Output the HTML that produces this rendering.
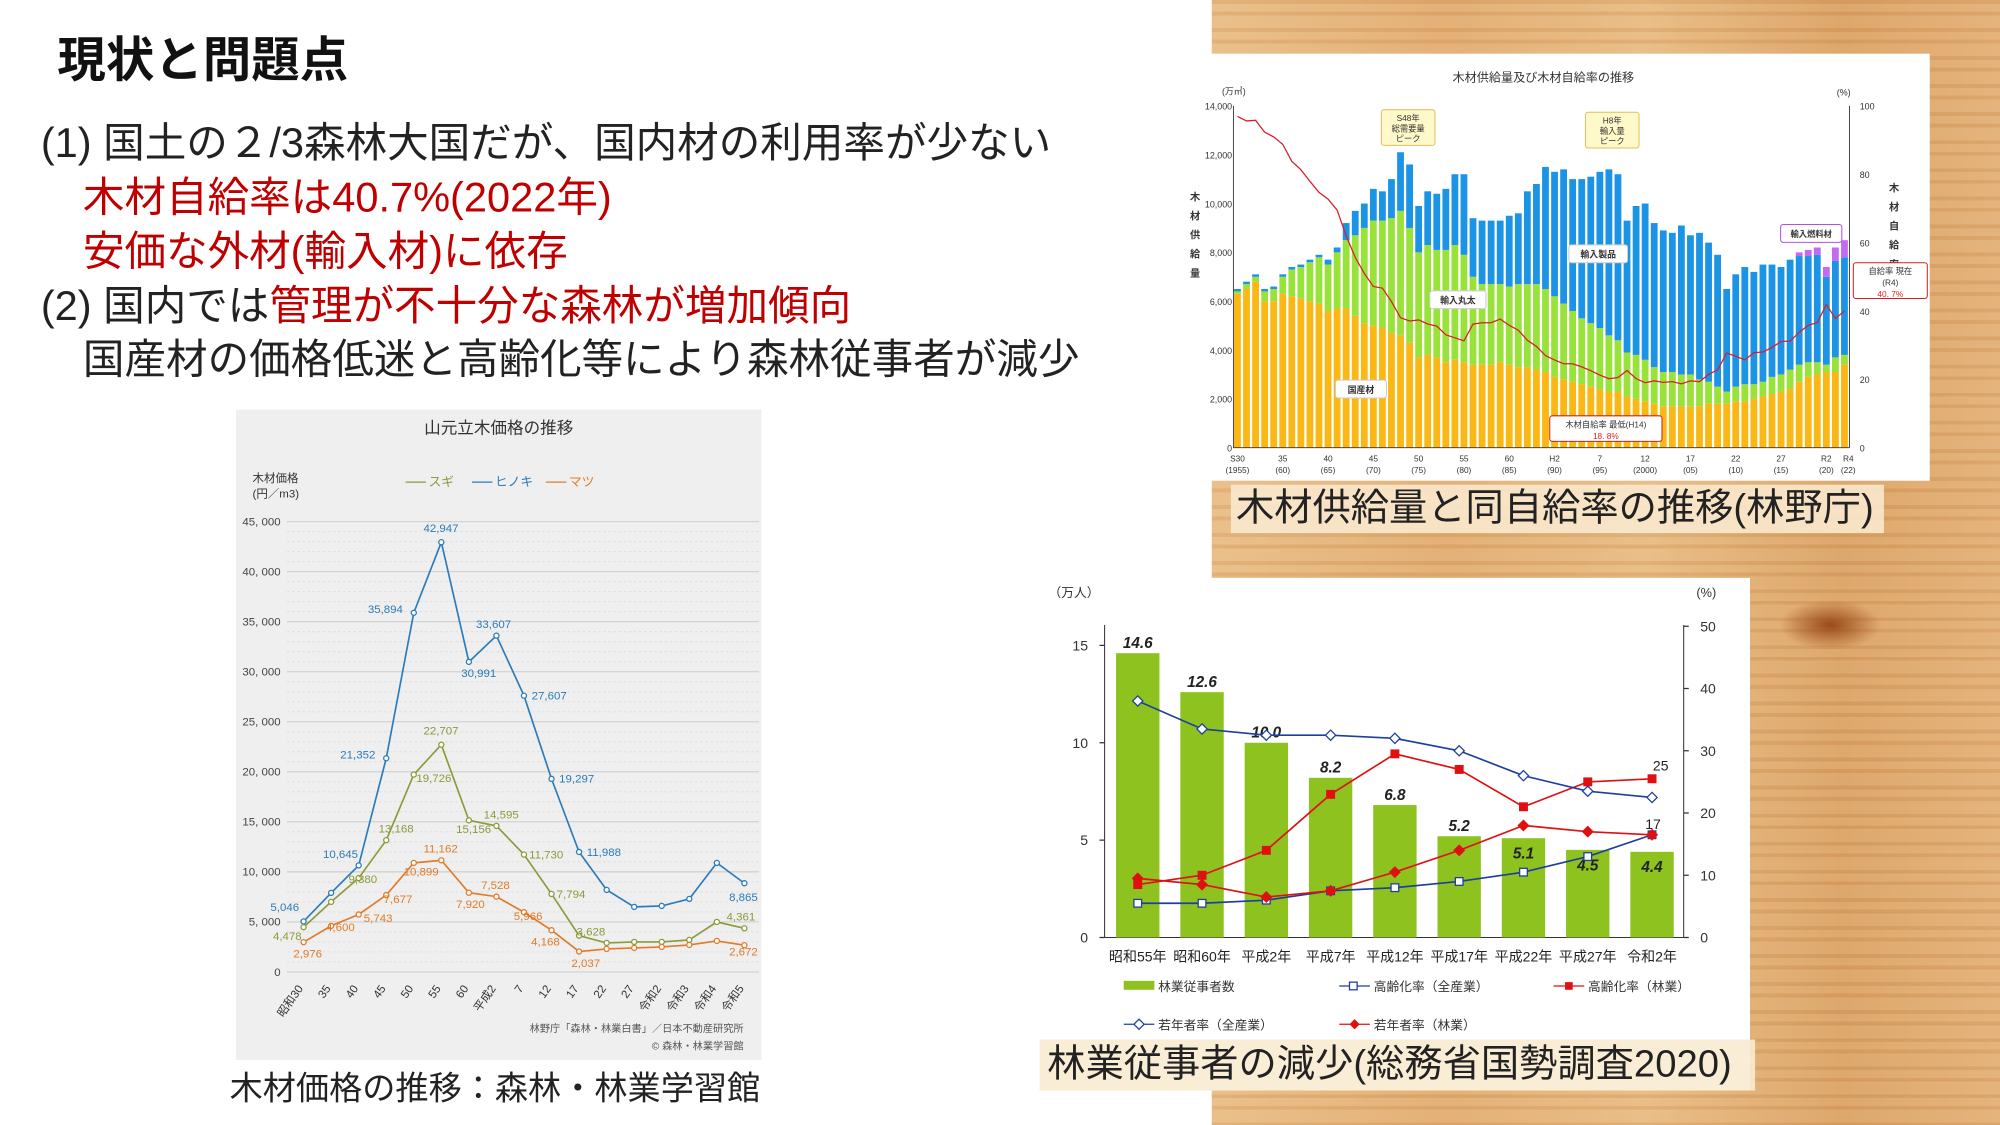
<!DOCTYPE html>
<html><head><meta charset="utf-8">
<style>
html,body{margin:0;padding:0;width:2000px;height:1125px;overflow:hidden;background:#fff}
#s{position:absolute;left:0;top:0;width:1568px;height:882px;transform:scale(1.27551);transform-origin:0 0;font-family:"Liberation Sans","Noto Sans CJK JP",sans-serif;}
.wood{position:absolute;left:950px;top:0;width:618px;height:882px;
background:
repeating-linear-gradient(180deg,rgba(150,80,20,0.10) 0 3px,rgba(255,230,190,0.08) 3px 9px,rgba(170,95,30,0.12) 9px 12px,rgba(255,240,210,0.06) 12px 22px),
linear-gradient(90deg,#e9bd86 0%,#e2ad72 30%,#e8bb83 55%,#dba366 80%,#e3b077 100%);}
.t{position:absolute;white-space:nowrap;color:#222}
.m{font-size:32.6px;line-height:40px}
.red{color:#c00000}
</style></head><body><div id="s">
<div class="wood"></div>
<div style="position:absolute;left:1395px;top:470px;width:80px;height:40px;border-radius:50%;background:radial-gradient(#9a4a18,rgba(180,90,30,0) 70%)"></div>

<div class="t" style="left:45px;top:26px;font-size:38px;line-height:44px;font-weight:bold;color:#111">現状と問題点</div>
<div class="t m" style="left:32px;top:92px">(1) 国土の２/3森林大国だが、国内材の利用率が少ない</div>
<div class="t m red" style="left:65px;top:135px">木材自給率は40.7%(2022年)</div>
<div class="t m red" style="left:65px;top:177px">安価な外材(輸入材)に依存</div>
<div class="t m" style="left:32px;top:220px">(2) 国内では<span class="red">管理が不十分な森林が増加傾向</span></div>
<div class="t m" style="left:65px;top:262px">国産材の価格低迷と高齢化等により森林従事者が減少</div>

<svg style="position:absolute;left:185px;top:321px" width="412" height="510" viewBox="185 321 412 510" id="lc"></svg>
<div class="t" style="left:180px;top:836px;font-size:26px;line-height:34px">木材価格の推移：森林・林業学習館</div>

<svg style="position:absolute;left:930px;top:42px" width="583" height="335" viewBox="930 42 583 335" id="tc"></svg>
<div class="t" style="left:965px;top:380px;width:508px;height:38px;background:rgba(250,232,205,0.9);font-size:30px;line-height:38px;padding-left:4px">木材供給量と同自給率の推移(林野庁)</div>

<svg style="position:absolute;left:815px;top:453px" width="557" height="402" viewBox="815 453 557 402" id="bc"></svg>
<div class="t" style="left:815px;top:815px;width:555px;height:40px;background:rgba(250,235,210,0.9);font-size:30px;line-height:40px;padding-left:6px">林業従事者の減少(総務省国勢調査2020)</div>

<script>
function T(x,y,s,sz,c,a,w){return `<text x="${x}" y="${y}" font-size="${sz||9}" fill="${c||'#333'}" text-anchor="${a||'start'}" ${w?'font-weight="bold"':''} font-family="Liberation Sans,Noto Sans CJK JP,sans-serif">${s}</text>`}
(function(){
let h=`<rect x="185" y="321" width="412" height="510" fill="#efefef"/>`;
h+=T(391,340,'山元立木価格の推移',13,'#333','middle');
h+=T(198,378,'木材価格',9)+T(198,390,'(円／m3)',9);
const Y=v=>762-v*353/45000;
for(let v=0;v<=45000;v+=1000){h+=`<line x1="225" x2="595" y1="${Y(v)}" y2="${Y(v)}" stroke="${v%5000?'#dcdcdc':'#c8c8c8'}" stroke-dasharray="${v%5000?'2,2':''}" stroke-width="0.7"/>`;}
for(let v=0;v<=45000;v+=5000)h+=T(220,Y(v)+3,v?v.toLocaleString('en').replace(',',', '):'0',9,'#444','end');
const lab=['昭和30','35','40','45','50','55','60','平成2','7','12','17','22','27','令和2','令和3','令和4','令和5'];
const X=i=>238+i*21.6;
lab.forEach((l,i)=>h+=`<text x="${X(i)}" y="775" font-size="9" fill="#333" text-anchor="end" transform="rotate(-55 ${X(i)} 775)" font-family="Liberation Sans,Noto Sans CJK JP,sans-serif">${l}</text>`);
const hi=[5046,7900,10645,21352,35894,42947,30991,33607,27607,19297,11988,8200,6500,6600,7300,10900,8865];
const su=[4478,7000,9380,13168,19726,22707,15156,14595,11730,7794,3628,2900,3000,3000,3200,5000,4361];
const ma=[2976,4600,5743,7677,10899,11162,7920,7528,5966,4168,2037,2300,2400,2500,2700,3100,2672];
[[hi,'#2b7bb9'],[su,'#8c9a3b'],[ma,'#e07b28']].forEach(([d,c])=>{
h+=`<polyline fill="none" stroke="${c}" stroke-width="1.3" points="${d.map((v,i)=>X(i)+','+Y(v)).join(' ')}"/>`;
d.forEach((v,i)=>h+=`<circle cx="${X(i)}" cy="${Y(v)}" r="2" fill="#fff" stroke="${c}" stroke-width="1"/>`);
});
const ann=[[hi,[[0,'5,046',-26,-8],[2,'10,645',-28,-6],[3,'21,352',-36,0],[4,'35,894',-36,0],[5,'42,947',-14,-8],[6,'30,991',-6,12],[7,'33,607',-16,-6],[8,'27,607',6,3],[9,'19,297',6,3],[10,'11,988',6,3],[16,'8,865',-12,14]],'#2b7bb9'],
[su,[[0,'4,478',-24,10],[2,'9,380',-8,4],[3,'13,168',-6,-6],[4,'19,726',2,6],[5,'22,707',-14,-8],[6,'15,156',-10,10],[7,'14,595',-10,-6],[8,'11,730',4,3],[9,'7,794',4,3],[10,'3,628',-2,0],[16,'4,361',-14,-6]],'#8c9a3b'],
[ma,[[0,'2,976',-8,12],[2,'5,743',4,6],[3,'7,677',-2,6],[4,'10,899',-8,10],[5,'11,162',-14,-6],[6,'7,920',-10,12],[7,'7,528',-12,-6],[8,'5,966',-8,6],[9,'4,168',-16,12],[10,'2,037',-6,12],[16,'2,672',-12,8],[1,'4,600',-4,4]],'#e07b28']];
ann.forEach(([d,list,c])=>list.forEach(([i,s,dx,dy])=>h+=T(X(i)+dx,Y(d[i])+dy,s,9,c)));
h+=`<line x1="318" x2="334" y1="378" y2="378" stroke="#8c9a3b"/>`+T(336,381,'スギ',10,'#8c9a3b');
h+=`<line x1="370" x2="386" y1="378" y2="378" stroke="#2b7bb9"/>`+T(388,381,'ヒノキ',10,'#2b7bb9');
h+=`<line x1="428" x2="444" y1="378" y2="378" stroke="#e07b28"/>`+T(446,381,'マツ',10,'#e07b28');
h+=T(583,809,'林野庁「森林・林業白書」／日本不動産研究所',8,'#555','end')+T(583,823,'© 森林・林業学習館',8,'#555','end');
document.getElementById('lc').innerHTML=h;
})();
(function(){
let h=`<rect x="945" y="42" width="568" height="335" fill="#fff"/>`;
h+=T(1210,64,'木材供給量及び木材自給率の推移',9.5,'#333','middle');
const Y=v=>351-v*268/14000;
h+=T(958,74,'(万㎥)',7)+T(1440,75,'(%)',7);
for(let v=0;v<=14000;v+=2000)h+=T(966,Y(v)+3,v.toLocaleString('en'),7,'#333','end');
for(let p=0;p<=100;p+=20)h+=T(1458,351-p*2.68+3,p,7);
['木','材','供','給','量'].forEach((c,i)=>h+=T(937,157+i*15,c,8,'#333','middle',1));
['木','材','自','給','率'].forEach((c,i)=>h+=T(1485,150+i*15,c,8,'#333','middle',1));
const t=[6500,6800,7100,6500,6600,7100,7400,7500,7700,7900,7700,8200,9200,9700,10000,10600,10500,11000,12100,11600,9900,10500,10400,10600,11200,11200,9400,9300,9300,9300,9500,9600,10500,10800,11500,11300,11400,11000,11000,11100,11300,11400,11200,9300,9900,10000,9200,8900,8800,9100,8700,8800,8400,7900,6500,7100,7400,7200,7500,7500,7400,7700,8000,8100,8200,7400,8200,8500];
const d=[6300,6500,6800,6000,6000,6300,6200,6100,6000,5900,5600,5700,5700,5400,5100,5000,4900,4700,4600,4300,3700,3800,3700,3500,3600,3500,3400,3400,3400,3500,3400,3300,3300,3200,3100,2900,2800,2700,2600,2500,2400,2300,2300,2100,2000,1900,1800,1700,1700,1700,1700,1700,1800,1800,1800,1900,1900,2000,2100,2200,2300,2400,2700,2900,3000,3100,3100,3400];
const g=[6400,6700,7000,6400,6500,7000,7300,7400,7600,7800,7500,8000,8500,8700,9000,9300,9300,9400,9700,9000,8000,8300,8100,8100,8300,7900,7000,6700,6700,6700,6600,6700,6700,6700,6500,6200,5900,5600,5300,5100,4900,4600,4400,3900,3800,3600,3300,3100,3100,3000,3000,2800,2700,2500,2300,2500,2600,2600,2700,2900,3000,3200,3400,3500,3500,3400,3700,3800];
const f={62:150,63:250,64:300,65:400,66:550,67:700};
const st=483/68;const X=i=>967.5+i*st;const w=st*0.75;
let pts=[];
t.forEach((tv,i)=>{const x=X(i);const fu=f[i]||0;
h+=`<rect x="${x}" y="${Y(d[i])}" width="${w}" height="${351-Y(d[i])}" fill="#fbb713"/>`;
h+=`<rect x="${x}" y="${Y(g[i])}" width="${w}" height="${Y(d[i])-Y(g[i])}" fill="#99e23a"/>`;
h+=`<rect x="${x}" y="${Y(tv-fu)}" width="${w}" height="${Y(g[i])-Y(tv-fu)}" fill="#1b94e6"/>`;
if(fu)h+=`<rect x="${x}" y="${Y(tv)}" width="${w}" height="${Y(tv-fu)-Y(tv)}" fill="#c36af0"/>`;
pts.push((x+w/2)+','+(351-d[i]/tv*100*2.68));});
h+=`<line x1="967" x2="967" y1="83" y2="351" stroke="#333" stroke-width="0.7"/><line x1="1450" x2="1450" y1="83" y2="351" stroke="#333" stroke-width="0.7"/><line x1="967" x2="1450" y1="351" y2="351" stroke="#333" stroke-width="0.7"/>`;
h+=`<polyline fill="none" stroke="#d8202a" stroke-width="1" points="${pts.join(' ')}"/>`;
const xl=[['S30','(1955)'],['35','(60)'],['40','(65)'],['45','(70)'],['50','(75)'],['55','(80)'],['60','(85)'],['H2','(90)'],['7','(95)'],['12','(2000)'],['17','(05)'],['22','(10)'],['27','(15)']];
xl.forEach(([a,b],k)=>{const x=X(k*5)+w/2;h+=T(x,362,a,6.5,'#333','middle')+T(x,371,b,6.5,'#333','middle')});
h+=T(X(65)+w/2,362,'R2',6.5,'#333','middle')+T(X(65)+w/2,371,'(20)',6.5,'#333','middle')+T(X(67)+w/2+3,362,'R4',6.5,'#333','middle')+T(X(67)+w/2+3,371,'(22)',6.5,'#333','middle');
const box=(x,y,ww,hh,fill,stroke)=>`<rect x="${x}" y="${y}" width="${ww}" height="${hh}" fill="${fill}" stroke="${stroke}" stroke-width="0.8" rx="2"/>`;
h+=box(1083,86,42,28,'#fff8c8','#e0c060')+T(1104,95,'S48年',6.5,'#333','middle')+T(1104,103,'総需要量',6.5,'#333','middle')+T(1104,111,'ピーク',6.5,'#333','middle');
h+=box(1243,88,42,28,'#fff8c8','#e0c060')+T(1264,97,'H8年',6.5,'#333','middle')+T(1264,105,'輸入量',6.5,'#333','middle')+T(1264,113,'ピーク',6.5,'#333','middle');
h+=box(1121,228,44,14,'#fff','#ccc')+T(1143,238,'輸入丸太',7,'#333','middle',1);
h+=box(1230,192,46,14,'#fff','#ccc')+T(1253,202,'輸入製品',7,'#333','middle',1);
h+=box(1047,298,40,14,'#fff','#ccc')+T(1067,308,'国産材',7,'#333','middle',1);
h+=box(1396,176,48,14,'#fff','#b050e0')+T(1420,186,'輸入燃料材',6.5,'#333','middle',1);
h+=box(1215,326,88,20,'#fff','#d02020')+T(1259,335,'木材自給率 最低(H14)',6.5,'#333','middle')+T(1259,344,'18. 8%',6.5,'#e02020','middle');
h+=box(1453,206,58,28,'#fff','#d02020')+T(1482,215,'自給率 現在',6.5,'#333','middle')+T(1482,224,'(R4)',6.5,'#333','middle')+T(1482,233,'40. 7%',6.5,'#e02020','middle');
document.getElementById('tc').innerHTML=h;
})();
(function(){
let h=`<rect x="815" y="453" width="557" height="402" fill="#fff"/>`;
const Y=v=>735-v*229/15, Yr=p=>735-p*4.88;
h+=T(822,468,'（万人）',10)+T(1330,468,'(%)',10);
[0,5,10,15].forEach(v=>h+=T(853,Y(v)+4,v,11,'#333','end'));
[0,10,20,30,40,50].forEach(p=>h+=T(1333,Yr(p)+4,p,11));
h+=`<line x1="866" x2="866" y1="490" y2="735" stroke="#333" stroke-width="0.8"/><line x1="1320" x2="1320" y1="490" y2="735" stroke="#333" stroke-width="0.8"/><line x1="866" x2="1320" y1="735" y2="735" stroke="#333" stroke-width="0.8"/>`;
[0,5,10,15].forEach(v=>h+=`<line x1="862" x2="866" y1="${Y(v)}" y2="${Y(v)}" stroke="#333"/>`);
[0,10,20,30,40,50].forEach(p=>h+=`<line x1="1320" x2="1324" y1="${Yr(p)}" y2="${Yr(p)}" stroke="#333"/>`);
const X=i=>892+i*50.4;
const b=[14.6,12.6,10.0,8.2,6.8,5.2,5.1,4.5,4.4];
const labs=['昭和55年','昭和60年','平成2年','平成7年','平成12年','平成17年','平成22年','平成27年','令和2年'];
b.forEach((v,i)=>{h+=`<rect x="${X(i)-17}" y="${Y(v)}" width="34" height="${735-Y(v)}" fill="#8dc21f"/>`;
const inside=i>=6;h+=`<text x="${X(i)}" y="${inside?Y(v)+16:Y(v)-4}" font-size="12" fill="#222" text-anchor="middle" font-weight="bold" font-style="italic" font-family="Liberation Sans,sans-serif">${v.toFixed(1)}</text>`;
h+=T(X(i),754,labs[i],11,'#222','middle');});
const ser=[[[5.5,5.5,6,7.5,8,9,10.5,13,16.5],'#1f3f9f','sq',0],[[8.5,10,14,23,29.5,27,21,25,25.5],'#e01010','sq',1],[[38,33.5,32.5,32.5,32,30,26,23.5,22.5],'#1f3f9f','di',0],[[9.5,8.5,6.5,7.5,10.5,14,18,17,16.5],'#e01010','di',1]];
ser.forEach(([d,c,m,fill])=>{h+=`<polyline fill="none" stroke="${c}" stroke-width="1.3" points="${d.map((p,i)=>X(i)+','+Yr(p)).join(' ')}"/>`;
d.forEach((p,i)=>{const x=X(i),y=Yr(p);const fc=fill?c:'#fff';
h+=m=='sq'?`<rect x="${x-3}" y="${y-3}" width="6" height="6" fill="${fc}" stroke="${c}"/>`:`<polygon points="${x},${y-4} ${x+4},${y} ${x},${y+4} ${x-4},${y}" fill="${fc}" stroke="${c}"/>`;});});
h+=T(1302,604,'25',11,'#222','middle')+T(1296,650,'17',11,'#222','middle');
h+=`<rect x="881" y="769" width="24" height="7" fill="#8dc21f"/>`+T(908,777,'林業従事者数',10);
h+=`<line x1="1050" x2="1074" y1="773" y2="773" stroke="#1f3f9f"/><rect x="1058" y="770" width="6" height="6" fill="#fff" stroke="#1f3f9f"/>`+T(1077,777,'高齢化率（全産業）',10);
h+=`<line x1="1218" x2="1242" y1="773" y2="773" stroke="#e01010"/><rect x="1227" y="770" width="6" height="6" fill="#e01010"/>`+T(1245,777,'高齢化率（林業）',10);
h+=`<line x1="881" x2="905" y1="803" y2="803" stroke="#1f3f9f"/><polygon points="893,799 897,803 893,807 889,803" fill="#fff" stroke="#1f3f9f"/>`+T(908,807,'若年者率（全産業）',10);
h+=`<line x1="1050" x2="1074" y1="803" y2="803" stroke="#e01010"/><polygon points="1062,799 1066,803 1062,807 1058,803" fill="#e01010"/>`+T(1077,807,'若年者率（林業）',10);
document.getElementById('bc').innerHTML=h;
})();
</script>
</div></body></html>
